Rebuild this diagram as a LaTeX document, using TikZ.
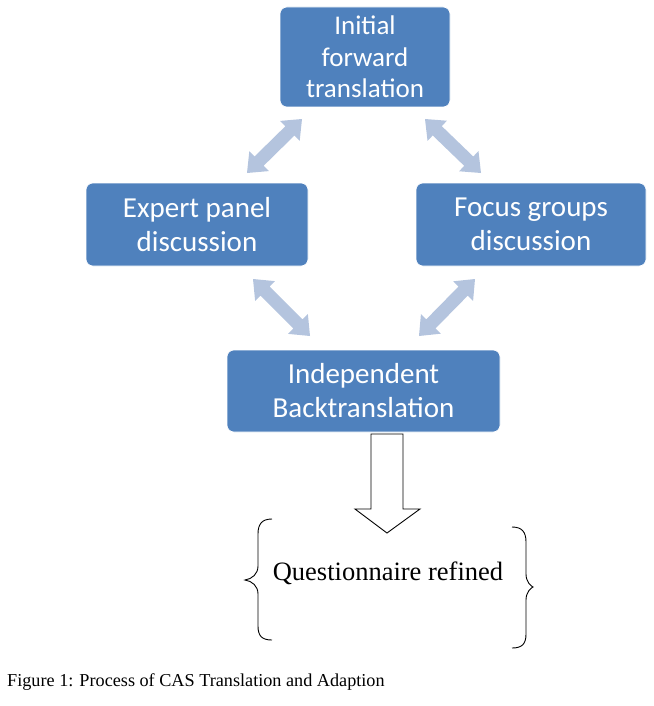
\documentclass[tikz,border=0pt]{standalone}
\usepackage{fontspec}
\setmainfont{Liberation Serif}
\newfontfamily\boxfont{Carlito}
\usetikzlibrary{calc}
\definecolor{boxblue}{HTML}{4F81BD}
\definecolor{arrowblue}{HTML}{B4C4DE}
\tikzset{
  stepbox/.style={fill=boxblue, draw=white, line width=0.6pt, rounded corners=7pt, text=white,
    align=center, inner sep=0pt, font=\boxfont\fontsize{29}{34}\selectfont},
  topbox/.style={stepbox, font=\boxfont\fontsize{27}{31.5}\selectfont},
  hollowarrow/.style={draw=black, fill=white, line width=0.9pt, line join=miter},
  bracestyle/.style={draw=black, line width=0.9pt},
}
% double-headed block arrow between two named coordinates
\newcommand\dblarr[2]{%
  \fill[arrowblue] (#1)
   -- ($(#1)!17pt!(#2)!14pt!90:(#2)$)
   -- ($(#1)!17pt!(#2)!6.5pt!90:(#2)$)
   -- ($(#2)!17pt!(#1)!6.5pt!-90:(#1)$)
   -- ($(#2)!17pt!(#1)!14pt!-90:(#1)$)
   -- (#2)
   -- ($(#2)!17pt!(#1)!14pt!90:(#1)$)
   -- ($(#2)!17pt!(#1)!6.5pt!90:(#1)$)
   -- ($(#1)!17pt!(#2)!6.5pt!-90:(#2)$)
   -- ($(#1)!17pt!(#2)!14pt!-90:(#2)$)
   -- cycle;}
\begin{document}
\begin{tikzpicture}[x=1pt, y=-1pt]
\useasboundingbox (0,0) rectangle (653,706);

% boxes
\node[topbox, minimum width=170pt, minimum height=100pt] (init) at (365,57) {Initial\\forward\\translation};
\node[stepbox, minimum width=222pt, minimum height=83pt] (expert) at (197,224.5) {Expert panel\\discussion};
\node[stepbox, minimum width=230pt, minimum height=83pt] (focus) at (531,224.5) {Focus groups\\discussion};
\node[stepbox, minimum width=273pt, minimum height=82pt] (back) at (363.5,391) {Independent\\Backtranslation};

% arrow tips
\coordinate (a1) at (302,119);
\coordinate (a2) at (247,173);
\coordinate (b1) at (425,119);
\coordinate (b2) at (481,173);
\coordinate (c1) at (253,279);
\coordinate (c2) at (310,336);
\coordinate (d1) at (475,279);
\coordinate (d2) at (419,336);

\dblarr{a1}{a2}
\dblarr{b1}{b2}
\dblarr{c1}{c2}
\dblarr{d1}{d2}

% hollow down arrow
\coordinate (tip) at (387,533);
\draw[hollowarrow] (371,434) -- (403,434) -- (403,509) -- (420,509) -- (tip) -- (355,509) -- (371,509) -- cycle;

% braces
\draw[bracestyle] (272,519) .. controls (262,519) and (258,524) .. (258,534) -- (258,566)
  .. controls (258,574) and (252,579) .. (245,580)
  .. controls (252,581) and (258,586) .. (258,594) -- (258,626)
  .. controls (258,636) and (262,640) .. (272,640);
\draw[bracestyle] (512,527) .. controls (522,527) and (526,532) .. (526,542) -- (526,574)
  .. controls (526,582) and (531,586) .. (533,587)
  .. controls (531,588) and (526,592) .. (526,600) -- (526,634)
  .. controls (526,644) and (522,648) .. (512,648);

\node[font=\fontsize{26.5}{30}\selectfont, anchor=base, inner sep=0pt] (refined) at (388,580) {Questionnaire refined};

\node[font=\fontsize{18.2}{20}\selectfont, anchor=base west, inner sep=0pt] (caption) at (7,686) {Figure 1: Process of CAS Translation and Adaption};
\end{tikzpicture}
\end{document}
